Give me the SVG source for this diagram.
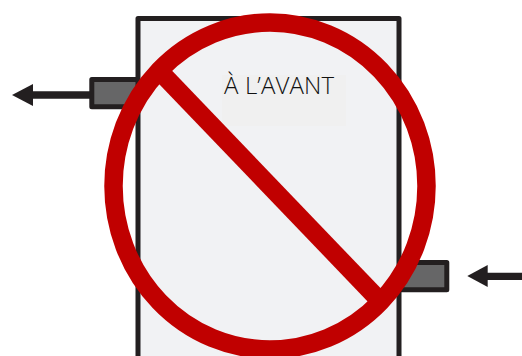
<svg xmlns="http://www.w3.org/2000/svg" width="522" height="356" viewBox="0 0 522 356">
<style>
.k{stroke:#231f20;stroke-width:5;stroke-linejoin:round}
.p{fill:#666667}
.c{fill:none;stroke:#231f20;stroke-width:7.300}
.h{fill:#231f20}
.r{fill:none;stroke:#c00000;stroke-width:18.500}
</style>
<g id="connectors">
<line class="c" x1="92" y1="95" x2="30" y2="95"/>
<polygon class="h" points="12,95 33,84 33,106"/>
<line class="c" x1="522" y1="276.300" x2="485" y2="276.300"/>
<polygon class="h" points="467.300,276 487.700,265 487.700,287"/>
</g>
<g id="port-left"><rect class="k p" x="91.800" y="79.500" width="48" height="27.300"/></g>
<g id="port-right"><rect class="k p" x="398" y="262.500" width="48.800" height="27.300"/></g>
<g id="body">
<rect class="k" fill="#f1f2f4" x="138" y="18.500" width="261" height="350"/>
<rect x="222" y="75" width="124" height="51" fill="#f0f0f0"/>
<text x="224" y="94" font-family="'Open Sans',sans-serif" font-weight="300" font-size="24" fill="#111" textLength="110">À L’AVANT</text>
</g>
<g id="prohibition">
<ellipse class="r" cx="270" cy="186" rx="156.500" ry="163.500"/>
<line class="r" x1="158" y1="69.500" x2="381" y2="302"/>
</g>
</svg>
